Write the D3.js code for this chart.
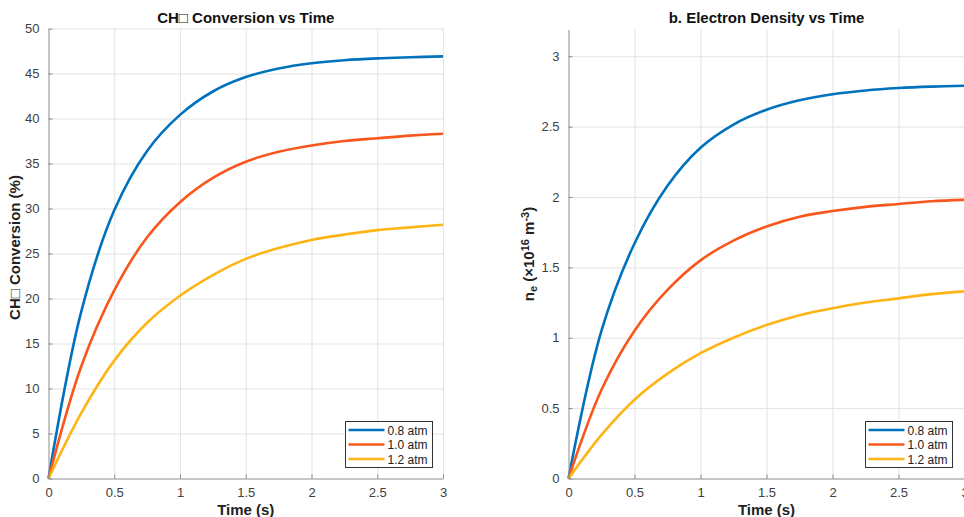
<!DOCTYPE html>
<html>
<head>
<meta charset="utf-8">
<script src="https://cdn.jsdelivr.net/npm/d3@7"></script>
<style>
  body { margin: 0; background: #fff; }
  svg { display: block; font-family: "Liberation Sans", Arial, sans-serif; }
  .tick text { fill: #404040; font-size: 13px; }
  .grid line { stroke: #e3e3e3; stroke-width: 1; }
  .grid path { display: none; }
</style>
</head>
<body>
<svg width="964" height="517"></svg>
<script>
// time samples (s)
var timePoints = [0, 0.25, 0.5, 0.75, 1, 1.25, 1.5, 1.75, 2, 2.25, 2.5, 2.75, 3];
var pressureLabels = ['0.8 atm', '1.0 atm', '1.2 atm'];

// CH4 conversion (%)
var convLow  = [0, 18.6, 29.8, 36.4, 40.4, 43.0, 44.6, 45.55, 46.13, 46.48, 46.68, 46.8, 46.9];
var convMid  = [0, 12.5, 20.9, 26.8, 30.7, 33.4, 35.2, 36.3, 37.0, 37.5, 37.8, 38.1, 38.3];
var convHigh = [0, 7.3, 13.1, 17.3, 20.3, 22.6, 24.4, 25.6, 26.5, 27.1, 27.6, 27.9, 28.2];

// electron density (x1e16 m^-3)
var densLow  = [0, 1.05, 1.67, 2.08, 2.35, 2.515, 2.62, 2.687, 2.73, 2.757, 2.774, 2.784, 2.79];
var densMid  = [0, 0.63, 1.05, 1.34, 1.55, 1.69, 1.79, 1.86, 1.90, 1.93, 1.95, 1.97, 1.98];
var densHigh = [0, 0.31, 0.56, 0.745, 0.89, 1.00, 1.09, 1.16, 1.21, 1.25, 1.28, 1.31, 1.33];

var xTicks = [0, 0.5, 1, 1.5, 2, 2.5, 3];
var convTicks = [0, 5, 10, 15, 20, 25, 30, 35, 40, 45, 50];
var densTicks = [0, 0.5, 1, 1.5, 2, 2.5, 3];

var colors = ['#0072BD', '#F9561C', '#FDB515'];

var svg = d3.select('svg');

function drawPanel(p) {
    var g = svg.append('g').attr('transform', 'translate(' + [p.left, p.top] + ')');
    var w = p.width, h = p.height;

    var x = d3.scaleLinear().domain([0, 3]).range([0, w]);
    var y = d3.scaleLinear().domain(p.yDomain).range([h, 0]);

    // grid
    g.append('g').attr('class', 'grid')
        .attr('transform', 'translate(0,' + h + ')')
        .call(d3.axisBottom(x).tickValues(xTicks.slice(1)).tickSize(-h).tickFormat(''));
    g.append('g').attr('class', 'grid')
        .call(d3.axisLeft(y).tickValues(p.yTicks.slice(1)).tickSize(-w).tickFormat(''));

    // lines
    var line = d3.line()
        .x(function(d, i) { return x(timePoints[i]); })
        .y(function(d) { return y(d); })
        .curve(d3.curveCatmullRom.alpha(0.5));
    p.series.forEach(function(s, i) {
        g.append('path')
            .attr('d', line(s))
            .attr('fill', 'none')
            .attr('stroke', colors[i])
            .attr('stroke-width', 2.6);
    });

    // axes (ticks inside)
    var xa = g.append('g')
        .attr('transform', 'translate(0,' + h + ')')
        .call(d3.axisBottom(x).tickValues(xTicks).tickSizeInner(-4).tickSizeOuter(0).tickPadding(9)
            .tickFormat(d3.format('')));
    var ya = g.append('g')
        .call(d3.axisLeft(y).tickValues(p.yTicks).tickSizeInner(-4).tickSizeOuter(0).tickPadding(9)
            .tickFormat(d3.format('')));
    [xa, ya].forEach(function(a) {
        a.select('.domain').attr('stroke', '#8c8c8c');
        a.selectAll('.tick line').attr('stroke', '#8c8c8c');
    });

    // title
    g.append('text')
        .attr('x', w / 2).attr('y', p.titleY)
        .attr('text-anchor', 'middle')
        .style('font-weight', 'bold').style('font-size', '15px').style('fill', '#111')
        .text(p.title);

    // x label
    g.append('text')
        .attr('x', w / 2).attr('y', h + 36)
        .attr('text-anchor', 'middle')
        .style('font-weight', 'bold').style('font-size', '15px').style('fill', '#222')
        .text('Time (s)');

    // y label
    var yl = g.append('text')
        .attr('transform', 'translate(' + [p.yLabelX, h / 2 + p.yLabelDy] + ')rotate(-90)')
        .attr('text-anchor', 'middle')
        .style('font-weight', 'bold').style('font-size', '15px').style('fill', '#222');
    p.yLabel(yl);

    // legend
    var lg = g.append('g').attr('transform', 'translate(' + [p.legendX, h - 57] + ')');
    lg.append('rect')
        .attr('width', 87).attr('height', 46)
        .attr('fill', '#fff').attr('stroke', '#333').attr('stroke-width', 1);
    pressureLabels.forEach(function(lab, i) {
        var ly = 8.5 + i * 14.5;
        lg.append('line')
            .attr('x1', 3).attr('x2', 39).attr('y1', ly).attr('y2', ly)
            .attr('stroke', colors[i]).attr('stroke-width', 2.6);
        lg.append('text')
            .attr('x', 42).attr('y', ly + 4.5)
            .style('font-size', '12px').style('fill', '#222')
            .text(lab);
    });
}

drawPanel({
    left: 48.5, top: 28.5, width: 394.5, height: 450,
    yDomain: [0, 50], yTicks: convTicks,
    series: [convLow, convMid, convHigh],
    title: 'CH\u25A1 Conversion vs Time', titleY: -5.5,
    yLabelX: -28.5, yLabelDy: -6,
    yLabel: function(t) { t.text('CH\u25A1 Conversion (%)'); },
    legendX: 297
});

drawPanel({
    left: 568.5, top: 29.5, width: 396, height: 449,
    yDomain: [0, 3.19], yTicks: densTicks,
    series: [densLow, densMid, densHigh],
    title: 'b. Electron Density vs Time', titleY: -6.5,
    yLabelX: -34.5, yLabelDy: 0,
    yLabel: function(t) {
        t.append('tspan').text('n');
        t.append('tspan').attr('baseline-shift', '-30%').style('font-size', '11px').text('e');
        t.append('tspan').text(' (\u00d710');
        t.append('tspan').attr('baseline-shift', '45%').style('font-size', '11px').text('16');
        t.append('tspan').text(' m');
        t.append('tspan').attr('baseline-shift', '45%').style('font-size', '11px').text('-3');
        t.append('tspan').text(')');
    },
    legendX: 297
});
</script>
</body>
</html>
